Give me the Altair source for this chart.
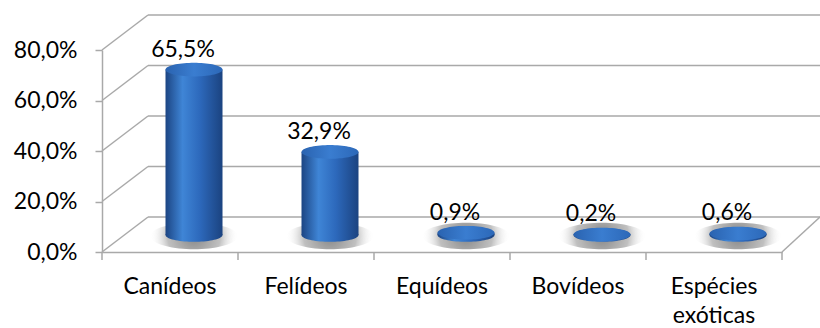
import altair as alt
import numpy as np
import pandas as pd

categories = ["Canídeos", "Felídeos", "Equídeos", "Bovídeos", "Espécies exóticas"]
values = [65.5, 32.9, 0.9, 0.2, 0.6]
value_labels = ["65,5%", "32,9%", "0,9%", "0,2%", "0,6%"]
y_ticks = [0, 20, 40, 60, 80]

df = pd.DataFrame({
    "cat": categories,
    "value": values,
    "label": value_labels,
    "zero": [0] * len(categories),
    "xlab": [c.replace(" ", "\n") for c in categories],
})
grid = pd.DataFrame({"v": y_ticks})
last = pd.DataFrame({"v": [0]})

# ellipse symbol shapes (unit width)
t = np.linspace(0, 2 * np.pi, 72, endpoint=False)
def ellipse(k):
    return "M" + "L".join(f"{np.cos(a):.4f},{k * np.sin(a):.4f}" for a in t) + "Z"
ELL = ellipse(0.24)
SHD = ellipse(0.3)

FONT = "Lato"
FS = 23
GRID = "#a9a9a9"
DX, DY = 46, -35      # depth of the 3D box
BX, BY = 24, -17      # mid-depth offset of cylinders

xs = alt.Scale(domain=categories, paddingInner=0, paddingOuter=0)
ys = alt.Scale(domain=[0, 80], nice=False)
x_axis = alt.Axis(labels=False, ticks=False, title=None, domainColor=GRID, domainWidth=1.5)
y_axis = alt.Axis(values=y_ticks, labelExpr="replace(format(datum.value,'.1f'),'.',',')+'%'",
                  grid=False, domainColor=GRID, tickColor=GRID, tickSize=7, domainWidth=1.5,
                  tickWidth=1.5, labelFont=FONT, labelFontSize=FS, labelColor="black",
                  labelPadding=18, title=None)

def X(**kw):
    return alt.X("cat:N", scale=xs, axis=x_axis, sort=categories, **kw)

base = alt.Chart(df)

# back wall gridlines
back = alt.Chart(grid).mark_rule(color=GRID, strokeWidth=1.5, yOffset=DY).encode(
    x=alt.value(DX), x2=alt.value(720),
    y=alt.Y("v:Q", scale=ys, axis=y_axis))
# left wall diagonals
side = alt.Chart(grid).mark_rule(color=GRID, strokeWidth=1.5, y2Offset=DY).encode(
    x=alt.value(0), x2=alt.value(DX),
    y=alt.Y("v:Q", scale=ys, axis=y_axis), y2="v:Q")
# right floor diagonal
rdiag = alt.Chart(last).mark_rule(color=GRID, strokeWidth=1.5, y2Offset=DY).encode(
    x=alt.value(680), x2=alt.value(718),
    y=alt.Y("v:Q", scale=ys, axis=y_axis), y2="v:Q")

# x ticks at category boundaries
xticks = base.mark_rule(color=GRID, strokeWidth=1.5).encode(
    x=X(bandPosition=0), y=alt.value(202), y2=alt.value(210))
xtick_last = alt.Chart(last).mark_rule(color=GRID, strokeWidth=1.5).encode(
    x=alt.value(680), y=alt.value(202), y2=alt.value(210))

shadow_grad = alt.RadialGradient(
    gradient="radial", x1=0.5, y1=0.5, r1=0, x2=0.5, y2=0.5, r2=0.5,
    stops=[alt.GradientStop(offset=0, color="rgba(110,110,110,0.85)"),
           alt.GradientStop(offset=0.6, color="rgba(150,150,150,0.6)"),
           alt.GradientStop(offset=1, color="rgba(255,255,255,0)")])
shadow = base.mark_point(shape=SHD, size=88 ** 2, fill=shadow_grad,
                         filled=True, strokeWidth=0, opacity=1, xOffset=BX, yOffset=BY + 1).encode(
    x=X(), y=alt.Y("zero:Q", scale=ys, axis=y_axis))

body_grad = alt.LinearGradient(
    gradient="linear", x1=0, x2=1, y1=0, y2=0,
    stops=[alt.GradientStop(offset=0, color="#1c4583"),
           alt.GradientStop(offset=0.3, color="#3f85d6"),
           alt.GradientStop(offset=0.6, color="#2d69bc"),
           alt.GradientStop(offset=1, color="#1b4380")])
top_grad = alt.LinearGradient(
    gradient="linear", x1=0, x2=1, y1=0, y2=0,
    stops=[alt.GradientStop(offset=0, color="#2a63b0"),
           alt.GradientStop(offset=0.5, color="#3a7dd0"),
           alt.GradientStop(offset=1, color="#2c68b8")])

bottom = base.mark_point(shape=ELL, size=57 ** 2, fill=body_grad, filled=True, strokeWidth=0,
                         opacity=1, xOffset=BX, yOffset=BY).encode(
    x=X(), y=alt.Y("zero:Q", scale=ys, axis=y_axis))
body = base.mark_bar(color=body_grad, size=57, xOffset=BX, yOffset=BY, y2Offset=BY).encode(
    x=X(), y=alt.Y("value:Q", scale=ys, axis=y_axis), y2="zero:Q")
top = base.mark_point(shape=ELL, size=57 ** 2, fill=top_grad, filled=True, strokeWidth=0,
                      opacity=1, xOffset=BX, yOffset=BY).encode(
    x=X(), y=alt.Y("value:Q", scale=ys, axis=y_axis))

vlabels = base.mark_text(font=FONT, fontSize=FS, color="black", baseline="middle",
                         xOffset=13, yOffset=BY - 20).encode(
    x=X(), y=alt.Y("value:Q", scale=ys, axis=y_axis), text="label:N")

xlabels = base.mark_text(font=FONT, fontSize=FS, color="black", baseline="alphabetic",
                         lineBreak="\n", lineHeight=29).encode(
    x=X(), y=alt.value(244), text="xlab:N")

chart = alt.layer(back, side, rdiag, xticks, xtick_last, shadow, bottom, body, top,
                  vlabels, xlabels).properties(
    width=680, height=202,
    autosize=alt.AutoSizeParams(type="none"),
    padding={"left": 102, "top": 50, "right": 38, "bottom": 76},
    background="white",
).configure_view(stroke=None)

chart.save("out.html", embed_options={"renderer": "svg", "actions": False})
